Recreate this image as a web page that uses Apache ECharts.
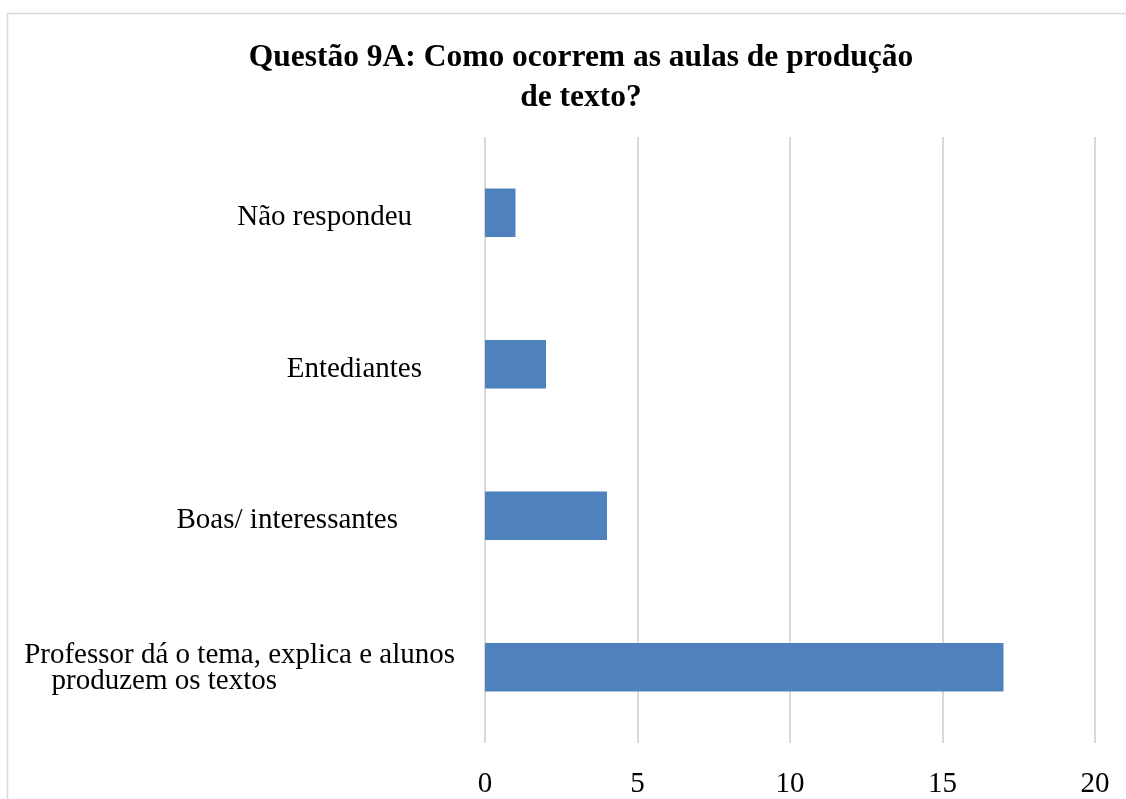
<!DOCTYPE html>
<html>
<head>
<meta charset="utf-8">
<script src="https://cdn.jsdelivr.net/npm/echarts@6/dist/echarts.min.js"></script>
<style>
  html, body { margin: 0; padding: 0; background: #fff; }
  #chart { width: 1126px; height: 799px; }
</style>
</head>
<body>
<div id="chart"></div>
<script>
// categories from bottom to top (category axis starts at the bottom)
const categories = [
  'Professor dá o tema, explica e alunos\nproduzem os textos',
  'Boas/ interessantes',
  'Entediantes',
  'Não respondeu'
]
const values = [17, 4, 2, 1]
const xTicks = [0, 5, 10, 15, 20]

const serif = '"Liberation Serif", "Times New Roman", serif'

const chart = echarts.init(document.getElementById('chart'))
chart.setOption({
  animation: false,
  title: {
    text: 'Questão 9A: Como ocorrem as aulas de produção\nde texto?',
    left: 576,
    top: 33,
    textAlign: 'center',
    textStyle: {
      fontFamily: serif,
      fontWeight: 'bold',
      fontSize: 31.5,
      lineHeight: 40,
      color: '#000'
    }
  },
  graphic: [{
    type: 'rect',
    shape: { x: 7.5, y: 13.5, width: 1140, height: 800 },
    style: { fill: 'none', stroke: '#d9d9d9', lineWidth: 1.5 },
    silent: true
  }],
  grid: {
    left: 485,
    right: 31,
    top: 137,
    bottom: 56
  },
  xAxis: {
    type: 'value',
    min: xTicks[0],
    max: xTicks[xTicks.length - 1],
    interval: 5,
    axisLine: { show: false },
    axisTick: { show: false },
    splitLine: { show: true, lineStyle: { color: '#d9d9d9', width: 2 } },
    axisLabel: {
      margin: 27,
      fontFamily: serif,
      fontSize: 29,
      color: '#000'
    }
  },
  yAxis: {
    type: 'category',
    data: categories,
    axisLine: { show: false },
    axisTick: { show: false },
    axisLabel: {
      margin: 0,
      fontFamily: serif,
      fontSize: 29,
      color: '#000',
      formatter: function (v) {
        if (v.indexOf('\n') >= 0) {
          const parts = v.split('\n')
          return '{p1|' + parts[0] + '}\n{p2|' + parts[1] + '}'
        }
        if (v === 'Não respondeu') return '{a|' + v + '}'
        if (v === 'Entediantes') return '{b|' + v + '}'
        return '{c|' + v + '}'
      },
      rich: {
        a: { fontFamily: serif, fontSize: 29, padding: [10, 73, 0, 0] },
        b: { fontFamily: serif, fontSize: 29, padding: [10, 63, 0, 0] },
        c: { fontFamily: serif, fontSize: 29, padding: [10, 87, 0, 0] },
        p1: { fontFamily: serif, fontSize: 29, lineHeight: 29, padding: [6, 30, 0, 0] },
        p2: { fontFamily: serif, fontSize: 29, lineHeight: 29, padding: [0, 208, 0, 0] }
      }
    }
  },
  series: [{
    type: 'bar',
    data: values,
    barWidth: '32%',
    itemStyle: { color: '#4f81bd' }
  }]
})
</script>
</body>
</html>
